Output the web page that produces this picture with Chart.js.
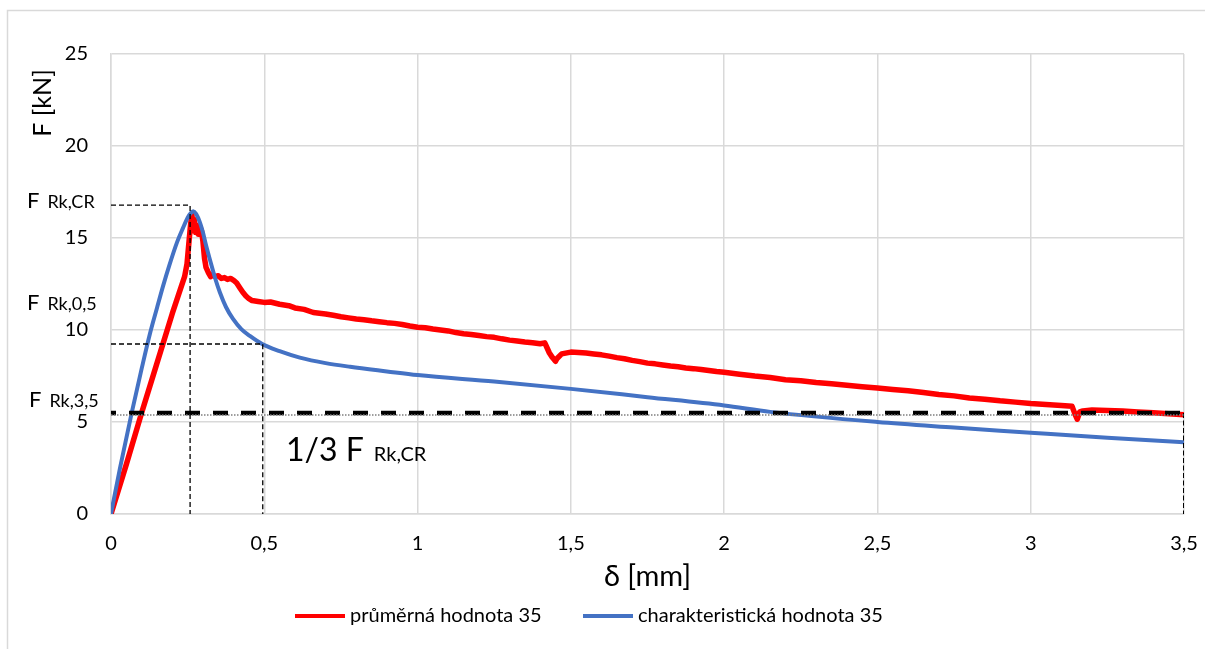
<!DOCTYPE html>
<html>
<head>
<meta charset="utf-8">
<script src="https://cdn.jsdelivr.net/npm/chart.js@4.4.0/dist/chart.umd.min.js"></script>
<style>
  html, body { margin: 0; padding: 0; background: #fff; overflow: hidden; }
  #wrap { width: 1205px; height: 649px; position: relative; }
</style>
</head>
<body>
<div id="wrap"><canvas id="c" width="1205" height="649"></canvas></div>
<script>
// Series names
const seriesNames = ['průměrná hodnota 35', 'charakteristická hodnota 35'];

// Mean force–displacement curve (δ in mm, F in kN)
const meanDisp = [
  0, 0.05, 0.1, 0.15, 0.2, 0.24, 0.248, 0.255, 0.26, 0.264, 0.268, 0.272, 0.276, 0.28, 0.285, 0.29,
  0.295, 0.3, 0.305, 0.31, 0.318, 0.325, 0.33, 0.34, 0.35, 0.36, 0.37, 0.38, 0.39, 0.4, 0.41, 0.42,
  0.43, 0.44, 0.45, 0.46, 0.48, 0.5, 0.52, 0.55, 0.58, 0.6, 0.63, 0.66, 0.7, 0.725, 0.75, 0.775, 0.8,
  0.825, 0.85, 0.875, 0.9, 0.925, 0.95, 0.975, 1.0, 1.025, 1.05, 1.075, 1.1, 1.125, 1.15, 1.175, 1.2,
  1.225, 1.25, 1.275, 1.3, 1.325, 1.35, 1.375, 1.4, 1.415, 1.43, 1.44, 1.45, 1.455, 1.47, 1.5,
  1.525, 1.55, 1.575, 1.6, 1.625, 1.65, 1.675, 1.7, 1.725, 1.75, 1.775, 1.8, 1.825, 1.85, 1.875, 1.9,
  1.925, 1.95, 1.975, 2.0, 2.05, 2.1, 2.15, 2.2, 2.25, 2.3, 2.35, 2.4, 2.45, 2.5, 2.55, 2.6, 2.65,
  2.7, 2.75, 2.8, 2.85, 2.9, 2.95, 3.0, 3.05, 3.1, 3.135, 3.145, 3.152, 3.16, 3.17, 3.2, 3.25, 3.3,
  3.35, 3.4, 3.45, 3.5
];
const meanForce = [
  0, 2.7, 5.5, 8.2, 10.9, 12.9, 13.6, 14.9, 15.8, 16.3, 15.4, 16.0, 15.3, 15.7, 15.2, 15.6,
  15.4, 14.8, 13.9, 13.4, 13.1, 12.9, 13.0, 12.9, 12.95, 12.8, 12.85, 12.75, 12.8, 12.7, 12.55, 12.3,
  12.05, 11.85, 11.7, 11.6, 11.55, 11.5, 11.52, 11.4, 11.32, 11.2, 11.12, 10.95, 10.87, 10.8, 10.72, 10.66, 10.6,
  10.56, 10.5, 10.45, 10.4, 10.36, 10.3, 10.22, 10.15, 10.12, 10.05, 10.0, 9.95, 9.86, 9.8, 9.76, 9.7,
  9.64, 9.6, 9.52, 9.45, 9.4, 9.35, 9.31, 9.25, 9.3, 8.75, 8.5, 8.3, 8.45, 8.7, 8.8,
  8.78, 8.75, 8.7, 8.65, 8.58, 8.5, 8.44, 8.35, 8.28, 8.2, 8.16, 8.1, 8.04, 8.0, 7.94, 7.9,
  7.85, 7.8, 7.74, 7.7, 7.6, 7.5, 7.42, 7.3, 7.24, 7.15, 7.08, 7.0, 6.92, 6.85, 6.77, 6.7, 6.6,
  6.5, 6.42, 6.3, 6.24, 6.15, 6.08, 6.0, 5.95, 5.9, 5.85, 5.4, 5.15, 5.55, 5.6, 5.65, 5.62, 5.6,
  5.55, 5.5, 5.45, 5.4
];

// Characteristic curve
const charDisp = [
  0, 0.03, 0.0675, 0.1, 0.127, 0.15, 0.17, 0.19, 0.215, 0.235, 0.25, 0.26, 0.268, 0.278, 0.29, 0.3,
  0.31, 0.323, 0.34, 0.355, 0.375, 0.398, 0.425, 0.453, 0.493, 0.55, 0.616, 0.7, 0.78, 0.9, 1.0,
  1.25, 1.5, 1.75, 2.0, 2.15, 2.5, 2.75, 2.9, 3.0, 3.25, 3.5
];
const charForce = [
  0, 2.55, 5.5, 7.9, 9.8, 11.2, 12.4, 13.5, 14.75, 15.55, 16.1, 16.35, 16.45, 16.3, 15.85, 15.3,
  14.6, 13.8, 12.8, 12.05, 11.25, 10.6, 10.05, 9.68, 9.24, 8.85, 8.5, 8.2, 8.0, 7.75, 7.55,
  7.2, 6.8, 6.35, 5.9, 5.55, 5.0, 4.7, 4.53, 4.42, 4.15, 3.9
];

// Reference levels
const peakRefDisp = 0.258, peakRefForce = 16.79;   // F Rk,CR
const halfRefDisp = 0.495, halfRefForce = 9.24;    // F Rk,0,5
const thirdRefForce = 5.49;                        // 1/3 F Rk,CR
const endRefForce = 5.38;                          // F Rk,3,5
const endDisp = 3.5;

// Axis ticks
const xTickValues = [0, 0.5, 1, 1.5, 2, 2.5, 3, 3.5];
const xTickLabels = ['0', '0,5', '1', '1,5', '2', '2,5', '3', '3,5'];
const yTickValues = [0, 5, 10, 15, 20, 25];
const yTickLabels = ['0', '5', '10', '15', '20', '25'];

const toPts = (xs, ys) => xs.map((x, i) => ({ x: x, y: ys[i] }));
const FONT = 'Lato, "Noto Sans", sans-serif';
const GRID = '#d9d9d9';

const datasets = [
  { label: 'ref-peak', data: [{x: 0, y: peakRefForce}, {x: peakRefDisp, y: peakRefForce}, {x: peakRefDisp, y: 0}],
    borderColor: '#000', borderWidth: 1.3, borderDash: [5, 3], order: 0 },
  { label: 'ref-half', data: [{x: 0, y: halfRefForce}, {x: halfRefDisp, y: halfRefForce}, {x: halfRefDisp, y: 0}],
    borderColor: '#000', borderWidth: 1.3, borderDash: [5, 3], order: 0 },
  { label: 'ref-end', data: [{x: 0, y: endRefForce}, {x: endDisp, y: endRefForce}],
    borderColor: '#7f7f7f', borderWidth: 1.3, borderDash: [1.5, 1.5], order: 0 },
  { label: 'ref-third', data: [{x: 0, y: thirdRefForce}, {x: endDisp, y: thirdRefForce}],
    borderColor: '#000', borderWidth: 4.5, borderDash: [15, 13], borderDashOffset: 10, order: 0 },
  { label: 'ref-end-v', data: [{x: endDisp, y: thirdRefForce}, {x: endDisp, y: 0}],
    borderColor: '#000', borderWidth: 2, borderDash: [5, 2.5], order: 0 },
  { label: seriesNames[1], data: toPts(charDisp, charForce), borderColor: '#4472c4', backgroundColor: '#4472c4',
    borderWidth: 4, cubicInterpolationMode: 'monotone', order: 1, isSeries: true },
  { label: seriesNames[0], data: toPts(meanDisp, meanForce), borderColor: '#ff0000', backgroundColor: '#ff0000',
    borderWidth: 5.5, tension: 0, order: 2, isSeries: true }
];
datasets.forEach(d => { d.showLine = true; d.pointRadius = 0; d.pointHoverRadius = 0; d.fill = false;
  d.borderJoinStyle = 'round'; });

// Frame and white background
const framePlugin = {
  id: 'frame',
  beforeDraw(chart) {
    const ctx = chart.ctx;
    ctx.save();
    ctx.fillStyle = '#fff';
    ctx.fillRect(0, 0, chart.width, chart.height);
    ctx.strokeStyle = GRID;
    ctx.lineWidth = 1.5;
    ctx.strokeRect(7.5, 10.5, chart.width + 20, chart.height + 20);
    ctx.restore();
  }
};

// Labels, axis titles and legend
function labelWithSub(ctx, x, y, main, sub, mainSize, subSize, gap) {
  ctx.font = mainSize + 'px ' + FONT;
  ctx.fillText(main, x, y);
  const w = ctx.measureText(main).width;
  ctx.font = subSize + 'px ' + FONT;
  ctx.fillText(sub, x + w + gap, y);
}

const textPlugin = {
  id: 'texts',
  afterDraw(chart) {
    const ctx = chart.ctx;
    const area = chart.chartArea;
    ctx.save();
    ctx.fillStyle = '#000';
    ctx.textBaseline = 'alphabetic';
    ctx.textAlign = 'left';
    labelWithSub(ctx, 27, 208, 'F', 'Rk,CR', 22, 18, 8);
    labelWithSub(ctx, 27, 310, 'F', 'Rk,0,5', 22, 18, 8);
    labelWithSub(ctx, 29, 407, 'F', 'Rk,3,5', 22, 18, 8);
    labelWithSub(ctx, 286, 461, '1/3 F', 'Rk,CR', 32, 20, 10);

    // axis titles
    ctx.font = '29px ' + FONT;
    ctx.textAlign = 'center';
    ctx.textBaseline = 'middle';
    ctx.fillText('δ [mm]', (area.left + area.right) / 2, 577);
    ctx.font = '25px ' + FONT;
    ctx.save();
    ctx.translate(43, 103);
    ctx.rotate(-Math.PI / 2);
    ctx.fillText('F [kN]', 0, 0);
    ctx.restore();

    // legend
    const series = chart.data.datasets.filter(d => d.isSeries).sort((a, b) => b.order - a.order);
    const legendX = [295, 583];
    ctx.font = '20px ' + FONT;
    ctx.textAlign = 'left';
    ctx.textBaseline = 'middle';
    series.forEach((d, i) => {
      const x = legendX[i];
      ctx.strokeStyle = d.borderColor;
      ctx.lineWidth = 4;
      ctx.beginPath();
      ctx.moveTo(x, 616);
      ctx.lineTo(x + 50, 616);
      ctx.stroke();
      ctx.fillStyle = '#000';
      ctx.fillText(d.label, x + 55, 616);
    });
    ctx.restore();
  }
};

new Chart(document.getElementById('c'), {
  type: 'scatter',
  data: { datasets: datasets },
  options: {
    responsive: false,
    animation: false,
    devicePixelRatio: 1,
    layout: { padding: { left: 0, right: 21, top: 54, bottom: 0 } },
    plugins: { legend: { display: false }, tooltip: { enabled: false } },
    scales: {
      x: {
        type: 'linear', min: 0, max: 3.5,
        afterFit(scale) { scale.height = 135; scale.paddingLeft = 0; scale.paddingRight = 0; },
        afterBuildTicks(scale) { scale.ticks = xTickValues.map(v => ({ value: v })); },
        ticks: {
          padding: 18, color: '#000', font: { family: FONT, size: 20 },
          callback: (v) => { const i = xTickValues.indexOf(v); return i >= 0 ? xTickLabels[i] : ''; }
        },
        grid: { color: GRID, lineWidth: 1.5, drawTicks: false },
        border: { display: true, color: GRID, width: 1.5 }
      },
      y: {
        type: 'linear', min: 0, max: 25,
        afterFit(scale) { scale.width = 111; scale.paddingTop = 0; scale.paddingBottom = 0; },
        afterBuildTicks(scale) { scale.ticks = yTickValues.map(v => ({ value: v })); },
        ticks: {
          padding: 23, color: '#000', font: { family: FONT, size: 20 },
          callback: (v) => { const i = yTickValues.indexOf(v); return i >= 0 ? yTickLabels[i] : ''; }
        },
        grid: { color: GRID, lineWidth: 1.5, drawTicks: false },
        border: { display: true, color: GRID, width: 1.5 }
      }
    }
  },
  plugins: [framePlugin, textPlugin]
});
</script>
</body>
</html>
